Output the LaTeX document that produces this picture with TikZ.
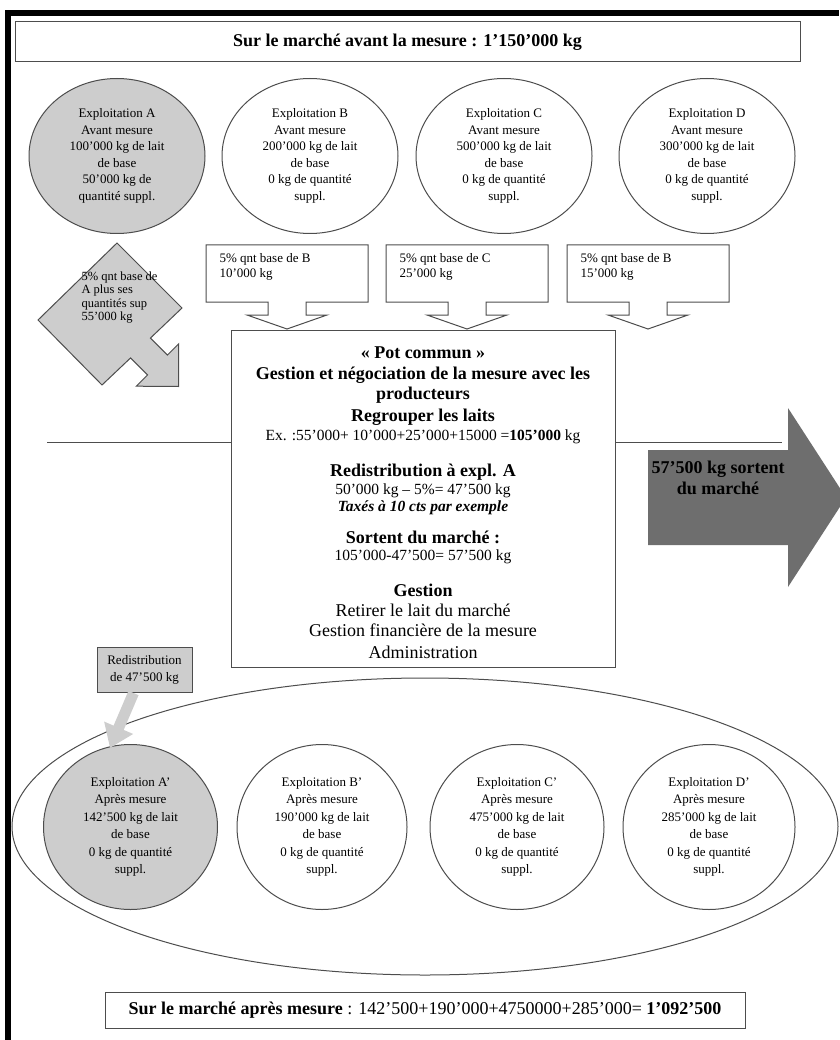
\documentclass[tikz,border=0pt]{standalone}
\usepackage{fontspec}
\setmainfont{Liberation Serif}
\usetikzlibrary{shapes.geometric,arrows.meta,calc}
\definecolor{linegray}{HTML}{4D4D4D}
\definecolor{farmgray}{HTML}{CDCDCD}
\definecolor{darkarrow}{HTML}{6E6E6E}

\newcommand{\bigb}{\fontsize{18}{20}\selectfont\bfseries}
\newcommand{\bign}{\fontsize{18}{20}\selectfont\mdseries}
\newcommand{\numn}{\fontsize{15.5}{20}\selectfont\mdseries}

\begin{document}
\begin{tikzpicture}[x=1pt, y=-1pt, line width=1pt,
  farm/.style={draw=linegray, ellipse, minimum width=176, minimum height=155,
    inner sep=0pt, align=center, font=\fontsize{13}{16.5}\selectfont},
  farmafter/.style={farm, minimum height=165, font=\fontsize{13}{17.5}\selectfont},
  qty/.style={anchor=north west, align=left, inner sep=0pt,
    font=\fontsize{13}{15}\selectfont},
  market/.style={draw=linegray, inner sep=0pt, font=\fontsize{18}{20}\selectfont}]
  \useasboundingbox (0,0) rectangle (839,1040);
  % black frame
  \fill[black] (5,10) rectangle (839,16);
  \fill[black] (5,10) rectangle (11,1040);

  \node[market, minimum width=785, minimum height=40] (before) at (407.5,42)
    {\bfseries Sur le marché avant la mesure : 1'150'000 kg};

  % farms before
  \node[farm, fill=farmgray] (fa) at (117,156)
    {Exploitation A\\Avant mesure\\100'000 kg de lait\\de base\\50'000 kg de\\quantité suppl.};
  \node[farm] (fb) at (310,156)
    {Exploitation B\\Avant mesure\\200'000 kg de lait\\de base\\0 kg de quantité\\suppl.};
  \node[farm] (fc) at (504,156)
    {Exploitation C\\Avant mesure\\500'000 kg de lait\\de base\\0 kg de quantité\\suppl.};
  \node[farm] (fd) at (707,156)
    {Exploitation D\\Avant mesure\\300'000 kg de lait\\de base\\0 kg de quantité\\suppl.};

  % 5% callouts
  \foreach \cx/\who/\amount [count=\i] in {287/B/10'000, 467/C/25'000, 648/B/15'000} {
    \draw[linegray, fill=white] (\cx-81,245) -- (\cx+81,245) -- (\cx+81,302)
      -- (\cx+19,302) -- (\cx+19,315) -- (\cx+40,315) -- (\cx,329)
      -- (\cx-40,315) -- (\cx-19,315) -- (\cx-19,302) -- (\cx-81,302) -- cycle;
    \node[qty] (q\i) at (\cx-68,253) {5\% qnt base de \who\\\amount{} kg};
  }

  % share of A
  \draw[linegray, fill=farmgray] (38,320) -- (117,243) -- (182,308) -- (150.4,338.1)
    -- (167.4,355.1) -- (178.7,343.8) -- (178.5,386.5) -- (136.3,386.2)
    -- (147.6,374.9) -- (130.6,357.9) -- (102,385) -- cycle;
  \node[qty, font=\fontsize{12.5}{13.5}\selectfont] (sharea) at (81,271)
    {5\% qnt base de\\A plus ses\\quantités sup\\55'000 kg};

  % pot commun
  \node[draw=linegray, fill=white, minimum width=384, minimum height=337, inner sep=0pt]
    (pot) at (423,498.5) {};
  \node[anchor=north, align=center, inner sep=0pt, font=\fontsize{18}{20}\selectfont]
    (pottext) at ($(pot.north)+(0,17)$) {%
    \bigb « Pot commun »\\[1pt]
    \bigb Gestion et négociation de la mesure avec les\\
    \bigb producteurs\\[2pt]
    \bigb Regrouper les laits\\[-1pt]
    \numn Ex. :55'000+ 10'000+25'000+15000 =\textbf{105'000} kg\\[16pt]
    \bigb Redistribution à expl. A\\[-2pt]
    \numn 50'000 kg – 5\%= 47'500 kg\\[-3pt]
    \numn\bfseries\itshape Taxés à 10 cts par exemple\\[12pt]
    \bigb Sortent du marché :\\[-3pt]
    \numn 105'000-47'500= 57'500 kg\\[16pt]
    \bigb Gestion\\
    \bign Retirer le lait du marché\\
    \bign Gestion financière de la mesure\\[2pt]
    \bign Administration};

  \coordinate (lineL) at (47,442);
  \coordinate (lineR) at (782,442);
  \draw[linegray] (lineL) -- (lineL -| pot.west);
  \draw[linegray] (pot.east |- lineR) -- (lineR);

  % milk leaving the market
  \fill[darkarrow] (648,450) -- (788,450) -- (788,408) -- (846,497.5) -- (788,587)
    -- (788,545) -- (648,545) -- cycle;
  \node[align=center, font=\fontsize{18}{21}\selectfont\bfseries] (out) at (718,478)
    {57'500 kg sortent\\du marché};

  % after the measure
  \node[draw=linegray, ellipse, minimum width=826, minimum height=297, inner sep=0pt]
    (after) at (425,826.5) {};
  \node[farmafter, fill=farmgray, minimum width=174] (fa2) at (130.5,827)
    {Exploitation A'\\Après mesure\\142'500 kg de lait\\de base\\0 kg de quantité\\suppl.};
  \node[farmafter, minimum width=170] (fb2) at (322,827)
    {Exploitation B'\\Après mesure\\190'000 kg de lait\\de base\\0 kg de quantité\\suppl.};
  \node[farmafter, minimum width=174] (fc2) at (517,827)
    {Exploitation C'\\Après mesure\\475'000 kg de lait\\de base\\0 kg de quantité\\suppl.};
  \node[farmafter, minimum width=172] (fd2) at (709,827)
    {Exploitation D'\\Après mesure\\285'000 kg de lait\\de base\\0 kg de quantité\\suppl.};

  \node[draw=linegray, fill=farmgray, minimum width=95, minimum height=45, inner sep=0pt,
    align=center, font=\fontsize{13}{17}\selectfont] (redis) at (144.5,670)
    {Redistribution\\de 47'500 kg};
  \coordinate (redtip) at (110,748);
  \draw[farmgray, line width=11pt, -{Triangle[width=30pt,length=22pt]}]
    ($(redis.south)+(-11,0)$) -- (redtip);

  \node[market, minimum width=640, minimum height=36] (aftermarket) at (425,1010)
    {\textbf{Sur le marché après mesure} : 142'500+190'000+4750000+285'000= \textbf{1'092'500}};
\end{tikzpicture}
\end{document}
